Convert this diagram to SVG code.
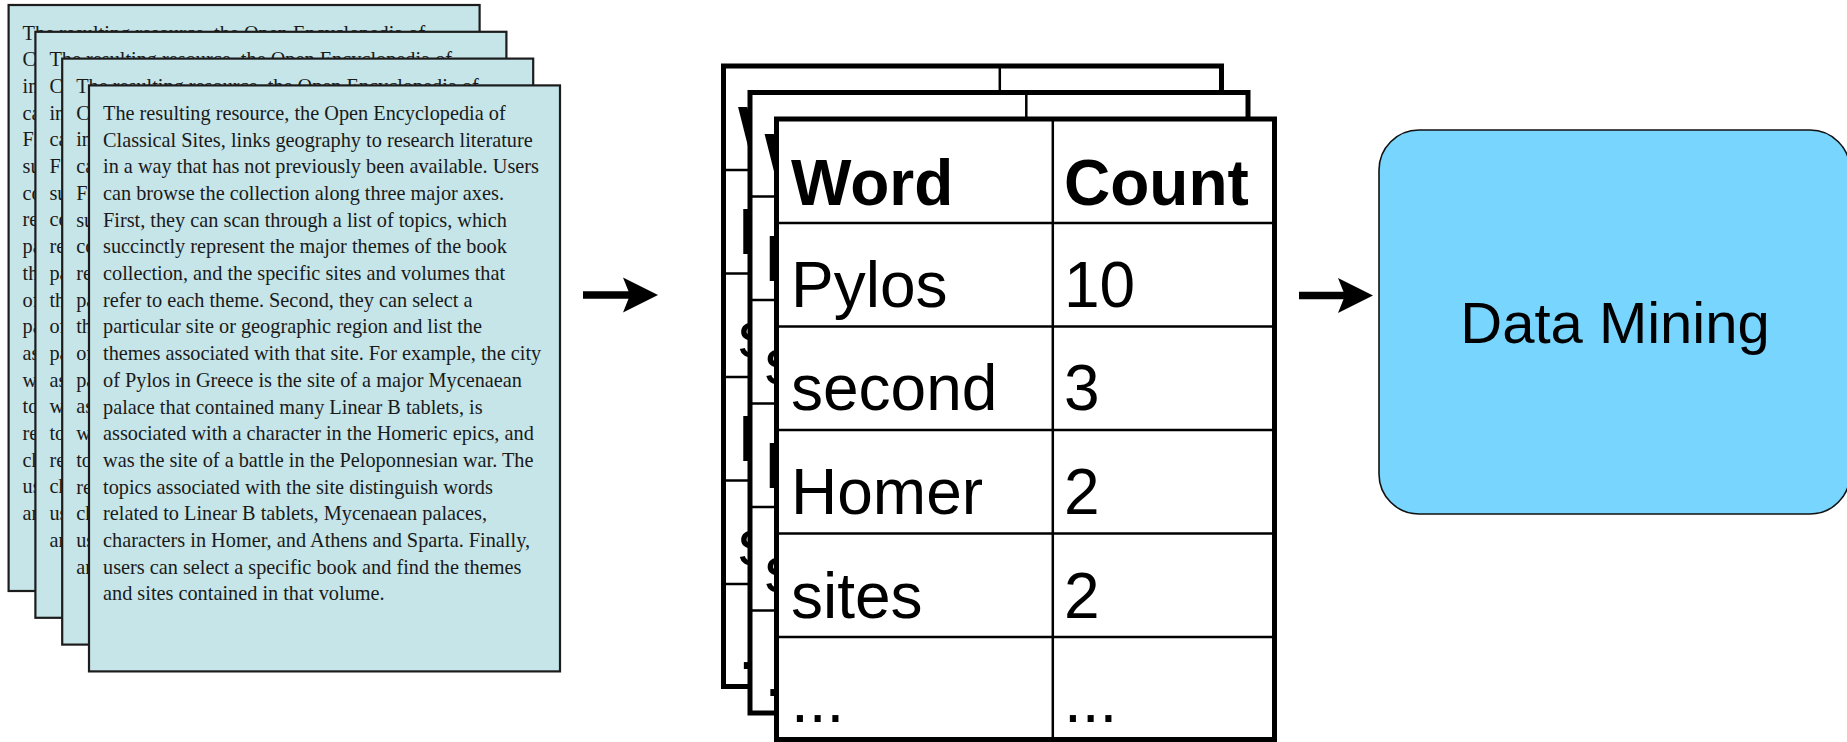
<svg xmlns="http://www.w3.org/2000/svg" xmlns:xlink="http://www.w3.org/1999/xlink" width="1847" height="742" viewBox="0 0 1847 742">
<style>
.doc { fill:#C5E5E9; stroke:#1c1c1c; stroke-width:2.2; }
.doctext { font-family:"Liberation Serif", "Times New Roman", serif; font-size:20.3px; fill:#1a1a1a; }
.tbl { fill:#ffffff; stroke:#000000; stroke-width:5; }
.grid { stroke:#000000; stroke-width:2.5; }
.cell { font-family:"Liberation Sans", Arial, sans-serif; font-size:64px; fill:#000000; }
.hdr { font-weight:bold; }
.box { fill:#78D5FE; stroke:#111111; stroke-width:1.6; }
.label { font-family:"Liberation Sans", Arial, sans-serif; font-size:58px; fill:#000000; }
.conn { stroke:#000000; stroke-width:7.5; fill:none; marker-end:url(#head); }
</style>
<defs>
<marker id="head" markerUnits="userSpaceOnUse" markerWidth="36" markerHeight="36" refX="7" refY="18" orient="auto" viewBox="0 0 36 36">
<path d="M0,0.5 L35,18 L0,35.5 L7,18 Z" fill="#000000"/>
</marker>
<g id="page">
<rect class="doc" x="0" y="0" width="471" height="586"/>
<text class="doctext" x="14" y="34.5">
<tspan x="14" y="34.5">The resulting resource, the Open Encyclopedia of</tspan>
<tspan x="14" dy="26.7">Classical Sites, links geography to research literature</tspan>
<tspan x="14" dy="26.7">in a way that has not previously been available. Users</tspan>
<tspan x="14" dy="26.7">can browse the collection along three major axes.</tspan>
<tspan x="14" dy="26.7">First, they can scan through a list of topics, which</tspan>
<tspan x="14" dy="26.7">succinctly represent the major themes of the book</tspan>
<tspan x="14" dy="26.7">collection, and the specific sites and volumes that</tspan>
<tspan x="14" dy="26.7">refer to each theme. Second, they can select a</tspan>
<tspan x="14" dy="26.7">particular site or geographic region and list the</tspan>
<tspan x="14" dy="26.7">themes associated with that site. For example, the city</tspan>
<tspan x="14" dy="26.7">of Pylos in Greece is the site of a major Mycenaean</tspan>
<tspan x="14" dy="26.7">palace that contained many Linear B tablets, is</tspan>
<tspan x="14" dy="26.7">associated with a character in the Homeric epics, and</tspan>
<tspan x="14" dy="26.7">was the site of a battle in the Peloponnesian war. The</tspan>
<tspan x="14" dy="26.7">topics associated with the site distinguish words</tspan>
<tspan x="14" dy="26.7">related to Linear B tablets, Mycenaean palaces,</tspan>
<tspan x="14" dy="26.7">characters in Homer, and Athens and Sparta. Finally,</tspan>
<tspan x="14" dy="26.7">users can select a specific book and find the themes</tspan>
<tspan x="14" dy="26.7">and sites contained in that volume.</tspan>
</text>
</g>
<g id="table">
<rect class="tbl" x="0" y="0" width="498" height="620.5"/>
<line class="grid" x1="276.3" y1="0" x2="276.3" y2="620.5"/>
<line class="grid" x1="0" y1="104" x2="498" y2="104"/>
<line class="grid" x1="0" y1="207.5" x2="498" y2="207.5"/>
<line class="grid" x1="0" y1="311" x2="498" y2="311"/>
<line class="grid" x1="0" y1="414.5" x2="498" y2="414.5"/>
<line class="grid" x1="0" y1="518" x2="498" y2="518"/>
<text class="cell hdr" x="14.5" y="86">Word</text>
<text class="cell hdr" x="287.5" y="86">Count</text>
<text class="cell" x="14.5" y="188">Pylos</text>
<text class="cell" x="287.5" y="188">10</text>
<text class="cell" x="14.5" y="291">second</text>
<text class="cell" x="287.5" y="291">3</text>
<text class="cell" x="14.5" y="395">Homer</text>
<text class="cell" x="287.5" y="395">2</text>
<text class="cell" x="14.5" y="499">sites</text>
<text class="cell" x="287.5" y="499">2</text>
<text class="cell" x="14.5" y="603">...</text>
<text class="cell" x="287.5" y="603">...</text>
</g>
</defs>
<rect x="0" y="0" width="1847" height="742" fill="#ffffff"/>
<g id="documents">
<g id="doc1"><use xlink:href="#page" href="#page" transform="translate(8.6,5)"/></g>
<g id="doc2"><use xlink:href="#page" href="#page" transform="translate(35.4,31.8)"/></g>
<g id="doc3"><use xlink:href="#page" href="#page" transform="translate(62.2,58.6)"/></g>
<g id="doc4"><use xlink:href="#page" href="#page" transform="translate(89,85.4)"/></g>
</g>
<g id="tables">
<g id="table1"><use xlink:href="#table" href="#table" transform="translate(723.5,66)"/></g>
<g id="table2"><use xlink:href="#table" href="#table" transform="translate(750,92.5)"/></g>
<g id="table3"><use xlink:href="#table" href="#table" transform="translate(776.5,119)"/></g>
</g>
<g id="data-mining">
<rect class="box" x="1379" y="130" width="471" height="384" rx="40" ry="40"/>
<text class="label" x="1615" y="343" text-anchor="middle">Data Mining</text>
</g>
<g id="connectors">
<line class="conn" x1="583" y1="295" x2="630" y2="295"/>
<line class="conn" x1="1299" y1="295.5" x2="1345" y2="295.5"/>
</g>
</svg>
